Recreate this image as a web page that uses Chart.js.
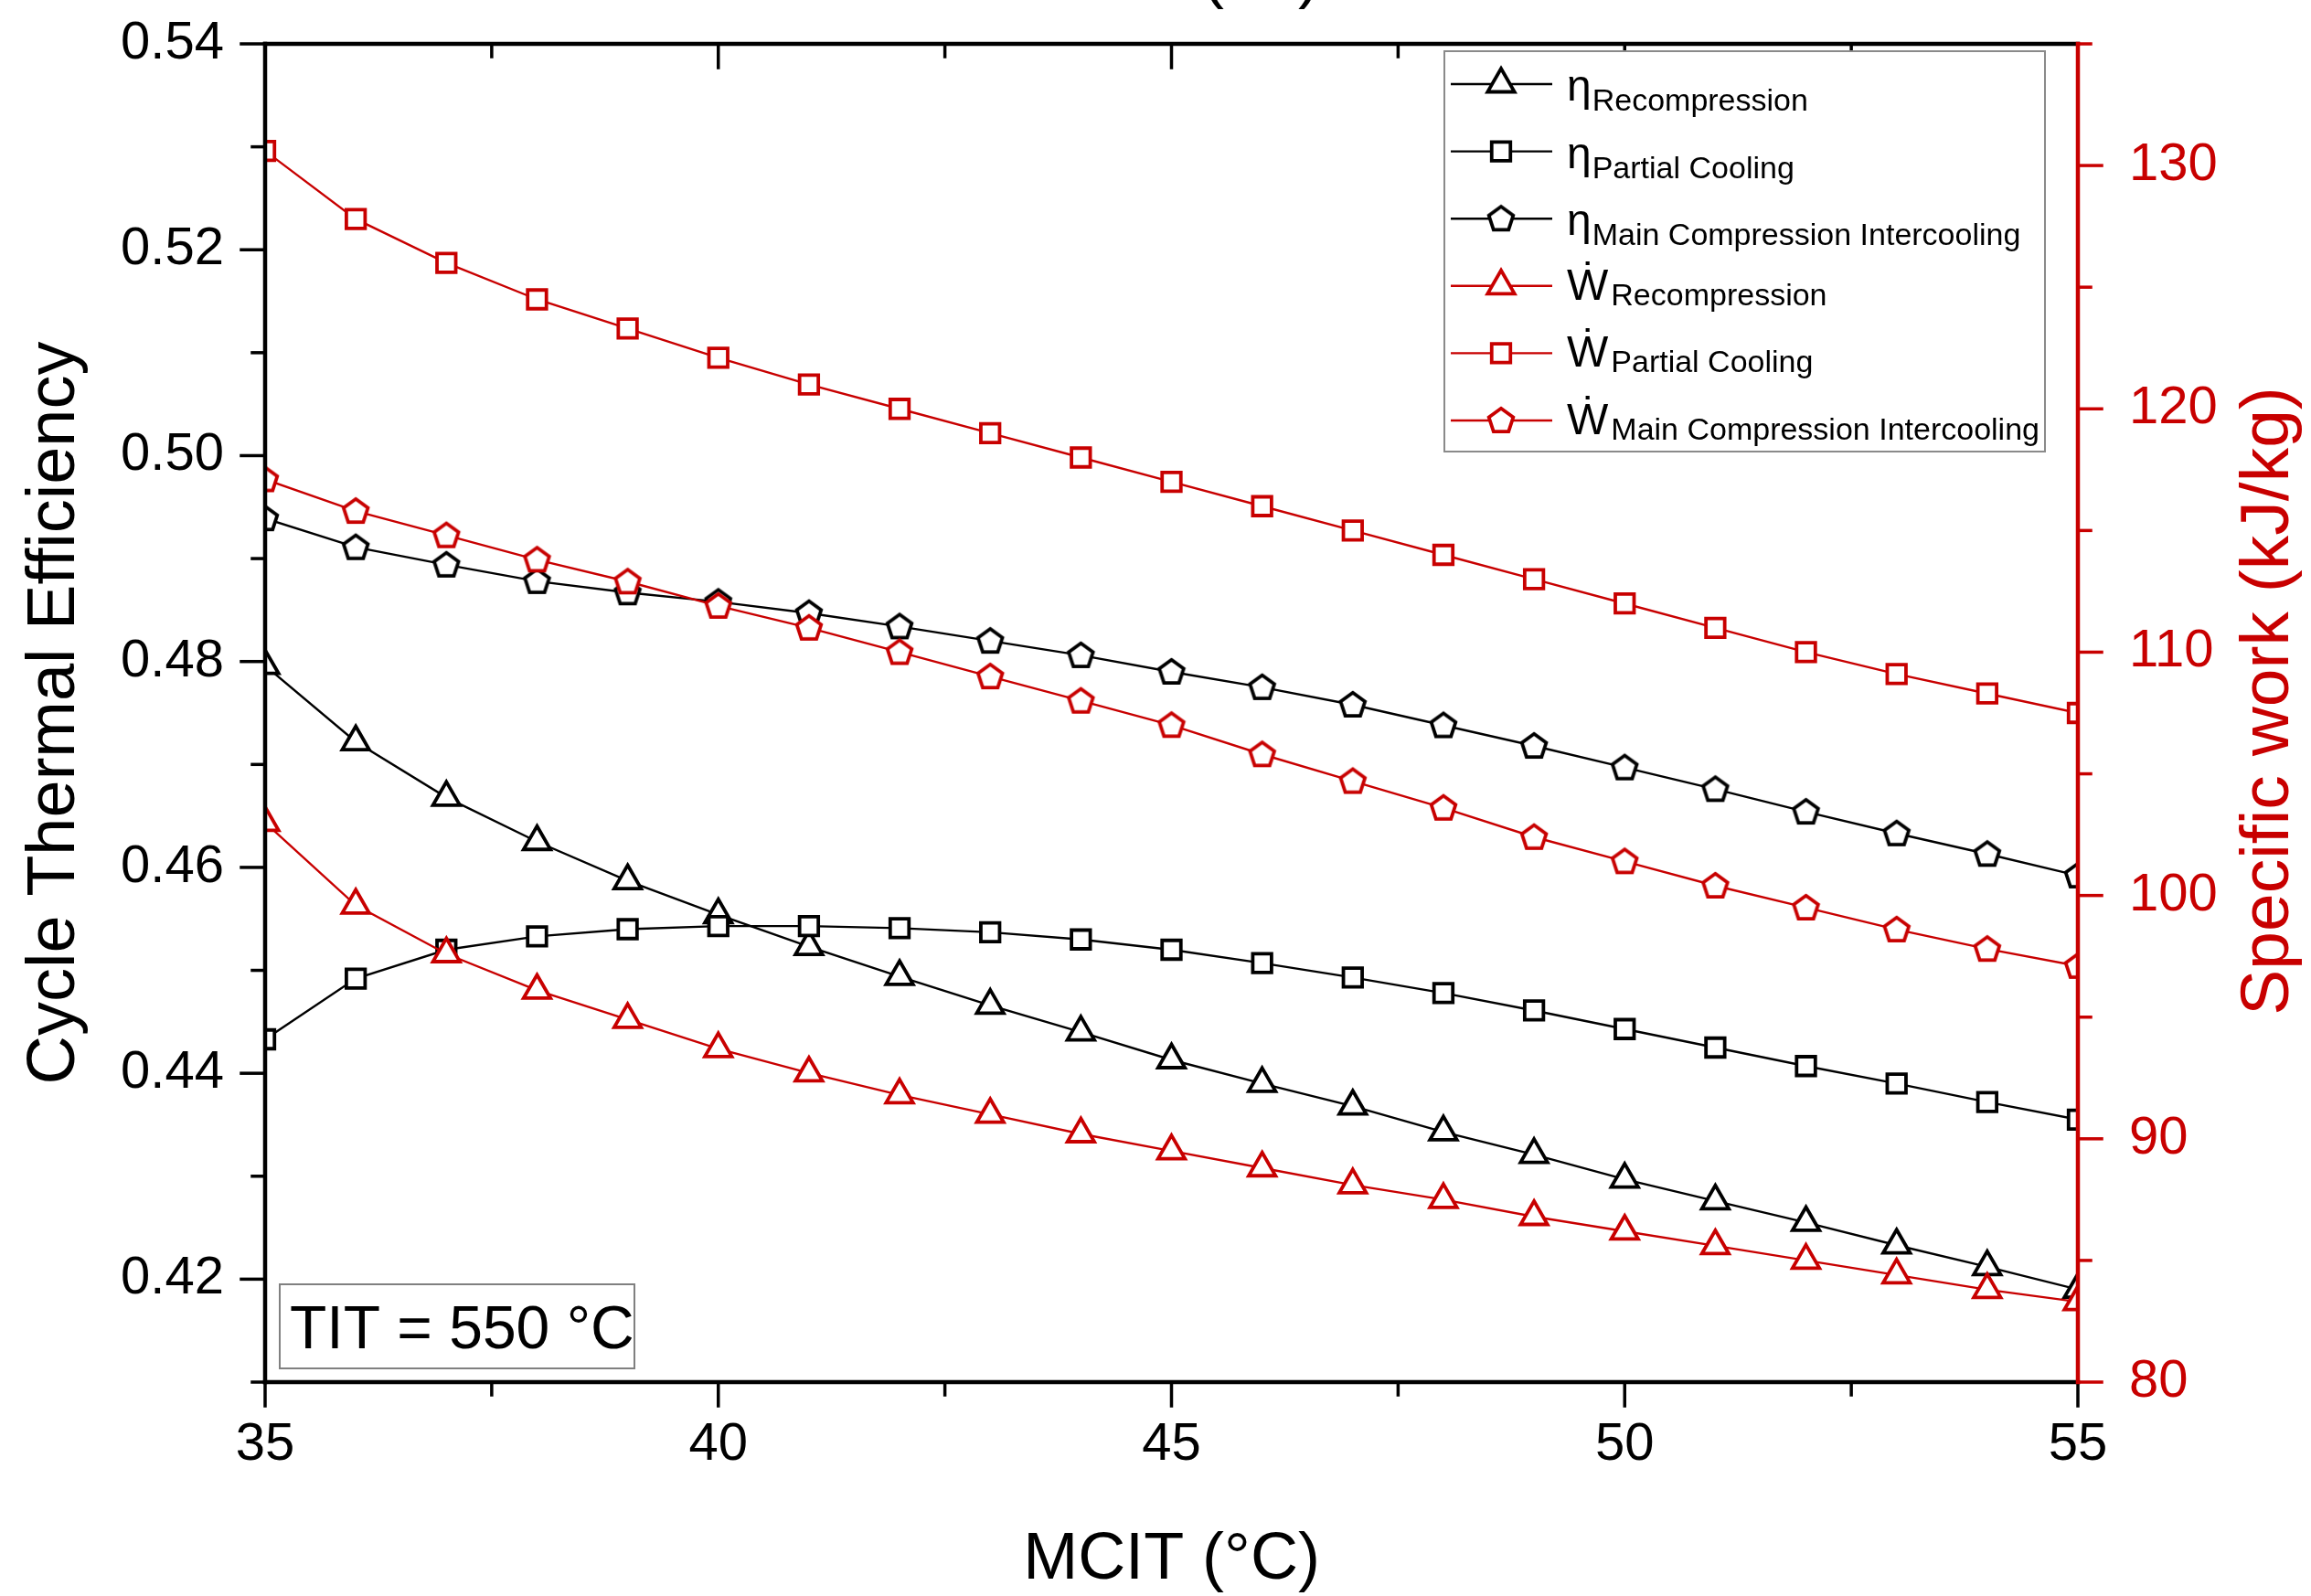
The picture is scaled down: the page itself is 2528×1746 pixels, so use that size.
<!DOCTYPE html>
<html>
<head>
<meta charset="utf-8">
<script src="https://cdn.jsdelivr.net/npm/chart.js@4.4.1/dist/chart.umd.min.js"></script>
<style>
  html, body { margin: 0; padding: 0; background: #fff; }
  #wrap { width: 2528px; height: 1746px; position: relative; }
</style>
</head>
<body>
<div id="wrap"><canvas id="chart" width="2528" height="1746"></canvas></div>
<script>
// MCIT sweep, 35..55 °C
const mcit = [35, 36, 37, 38, 39, 40, 41, 42, 43, 44, 45, 46, 47, 48, 49, 50, 51, 52, 53, 54, 55];

// thermal efficiency (left axis)
const etaRecompression = [0.4796, 0.4722, 0.4668, 0.4625, 0.4587, 0.4554, 0.4523, 0.4494, 0.4466, 0.4440, 0.4413,
  0.4390, 0.4368, 0.4343, 0.4321, 0.4297, 0.4276, 0.4255, 0.4233, 0.4212, 0.4190];
const etaPartialCooling = [0.4433, 0.4492, 0.4520, 0.4533, 0.4540, 0.4543, 0.4543, 0.4541, 0.4537, 0.4530, 0.4520,
  0.4507, 0.4493, 0.4478, 0.4461, 0.4443, 0.4425, 0.4407, 0.4390, 0.4372, 0.4355];
const etaMainCompIntercooling = [0.4939, 0.4911, 0.4894, 0.4878, 0.4867, 0.4858, 0.4847, 0.4834, 0.4820, 0.4806, 0.4790,
  0.4775, 0.4758, 0.4738, 0.4718, 0.4697, 0.4676, 0.4654, 0.4633, 0.4613, 0.4592];

// specific work, kJ/kg (right axis)
const workRecompression = [103.0, 99.6, 97.6, 96.1, 94.9, 93.7, 92.7, 91.8, 91.0, 90.2, 89.5,
  88.8, 88.1, 87.5, 86.8, 86.2, 85.6, 85.0, 84.4, 83.8, 83.3];
const workPartialCooling = [130.6, 127.8, 126.0, 124.5, 123.3, 122.1, 121.0, 120.0, 119.0, 118.0, 117.0,
  116.0, 115.0, 114.0, 113.0, 112.0, 111.0, 110.0, 109.1, 108.3, 107.5];
const workMainCompIntercooling = [117.1, 115.8, 114.8, 113.8, 112.9, 111.9, 111.0, 110.0, 109.0, 108.0, 107.0,
  105.8, 104.7, 103.6, 102.4, 101.4, 100.4, 99.5, 98.6, 97.8, 97.1];

// tick labels
const mcitTicks = [35, 40, 45, 50, 55];
const effTicks = [0.42, 0.44, 0.46, 0.48, 0.50, 0.52, 0.54];
const workTicks = [80, 90, 100, 110, 120, 130];

const BLACK = '#000000';
const RED = '#c80000';
const FONT = '"Liberation Sans", Arial, "DejaVu Sans", sans-serif';

Chart.defaults.font.family = FONT;

// Chart.js has no pentagon marker, so build one as an image
function pentagon(color) {
  const c = document.createElement('canvas');
  c.width = c.height = 40;
  const g = c.getContext('2d');
  g.beginPath();
  for (let i = 0; i < 5; i++) {
    const a = -Math.PI / 2 + i * 2 * Math.PI / 5;
    const px = 20 + 14 * Math.cos(a), py = 20.8 + 14 * Math.sin(a);
    if (i === 0) g.moveTo(px, py); else g.lineTo(px, py);
  }
  g.closePath();
  g.fillStyle = '#fff';
  g.fill();
  g.lineWidth = 3.8;
  g.lineJoin = 'miter';
  g.strokeStyle = color;
  g.stroke();
  return c;
}

function series(symbol, subscript, values, color, marker, radius, axis, order) {
  return {
    label: symbol + ' ' + subscript,
    symbol: symbol,
    subscript: subscript,
    data: mcit.map((x, i) => ({ x: x, y: values[i] })),
    yAxisID: axis,
    borderColor: color,
    borderWidth: 2.4,
    pointStyle: marker,
    pointRadius: radius,
    pointHoverRadius: radius,
    pointBorderWidth: 3.8,
    pointBorderColor: color,
    pointBackgroundColor: '#ffffff',
    tension: 0,
    clip: 0,
    order: order
  };
}

const datasets = [
  series('η', 'Recompression', etaRecompression, BLACK, 'triangle', 17, 'y', 6),
  series('η', 'Partial Cooling', etaPartialCooling, BLACK, 'rect', 14.5, 'y', 5),
  series('η', 'Main Compression Intercooling', etaMainCompIntercooling, BLACK, pentagon(BLACK), 14, 'y', 4),
  series('Ẇ', 'Recompression', workRecompression, RED, 'triangle', 17, 'y1', 3),
  series('Ẇ', 'Partial Cooling', workPartialCooling, RED, 'rect', 14.5, 'y1', 2),
  series('Ẇ', 'Main Compression Intercooling', workMainCompIntercooling, RED, pentagon(RED), 14, 'y1', 1)
];

// axis lines + major/minor ticks on all four sides
const frame = {
  id: 'frame',
  afterDatasetsDraw(chart) {
    const { ctx, chartArea: a, scales } = chart;
    const major = 26, minor = 14;
    const line = (x1, y1, x2, y2, color, w) => {
      ctx.beginPath();
      ctx.moveTo(x1, y1);
      ctx.lineTo(x2, y2);
      ctx.strokeStyle = color;
      ctx.lineWidth = w;
      ctx.stroke();
    };
    ctx.save();
    ctx.lineCap = 'square';

    // bottom + top
    mcitTicks.forEach((v, i) => {
      const x = scales.x.getPixelForValue(v);
      line(x, a.bottom, x, a.bottom + major, BLACK, 3.5);
      line(x, a.top, x, a.top + major, BLACK, 3.5);
      if (i < mcitTicks.length - 1) {
        const xm = scales.x.getPixelForValue((v + mcitTicks[i + 1]) / 2);
        line(xm, a.bottom, xm, a.bottom + minor, BLACK, 3.5);
        line(xm, a.top, xm, a.top + minor, BLACK, 3.5);
      }
    });
    // left
    effTicks.forEach((v) => {
      const y = scales.y.getPixelForValue(v);
      line(a.left, y, a.left - major, y, BLACK, 3.5);
      const ym = scales.y.getPixelForValue(v - 0.01);
      line(a.left, ym, a.left - minor, ym, BLACK, 3.5);
    });
    line(a.left, a.top, a.right, a.top, BLACK, 4.5);
    line(a.left, a.bottom, a.right, a.bottom, BLACK, 4.5);
    line(a.left, a.top, a.left, a.bottom, BLACK, 4.5);

    // right, red
    workTicks.forEach((v) => {
      const y = scales.y1.getPixelForValue(v);
      line(a.right, y, a.right + major, y, RED, 3.5);
      const ym = scales.y1.getPixelForValue(v + 5);
      line(a.right, ym, a.right + minor, ym, RED, 3.5);
    });
    line(a.right, a.top, a.right, a.bottom, RED, 4.5);
    ctx.restore();
  }
};

// titles, legend with subscripts, TIT note
const annotations = {
  id: 'annotations',
  afterDraw(chart) {
    const { ctx, chartArea: a } = chart;
    ctx.save();

    // axis title of the panel above, cut by the top edge
    ctx.fillStyle = BLACK;
    ctx.font = '72px ' + FONT;
    ctx.textAlign = 'center';
    ctx.textBaseline = 'alphabetic';
    ctx.fillText('MCIT (°C)', (a.left + a.right) / 2, -5);

    // x title
    ctx.fillText('MCIT (°C)', (a.left + a.right) / 2, 1727);

    // left title
    ctx.save();
    ctx.font = '74px ' + FONT;
    ctx.translate(81, (a.top + a.bottom) / 2);
    ctx.rotate(-Math.PI / 2);
    ctx.fillText('Cycle Thermal Efficiency', 0, 0);
    ctx.restore();

    // right title
    ctx.save();
    ctx.font = '75px ' + FONT;
    ctx.fillStyle = RED;
    ctx.translate(2503, 767);
    ctx.rotate(-Math.PI / 2);
    ctx.fillText('Specific work (kJ/kg)', 0, 0);
    ctx.restore();

    // legend
    const box = { left: 1580, top: 56, right: 2237, bottom: 494 };
    ctx.fillStyle = '#fff';
    ctx.fillRect(box.left, box.top, box.right - box.left, box.bottom - box.top);
    ctx.strokeStyle = '#8a8a8a';
    ctx.lineWidth = 2;
    ctx.strokeRect(box.left, box.top, box.right - box.left, box.bottom - box.top);

    ctx.textAlign = 'left';
    chart.data.datasets.forEach((ds, i) => {
      const cy = 92 + i * 73.6;
      ctx.beginPath();
      ctx.moveTo(1587, cy);
      ctx.lineTo(1698, cy);
      ctx.strokeStyle = ds.borderColor;
      ctx.lineWidth = ds.borderWidth;
      ctx.stroke();

      ctx.fillStyle = '#fff';
      ctx.strokeStyle = ds.pointBorderColor;
      ctx.lineWidth = ds.pointBorderWidth;
      Chart.helpers.drawPoint(ctx, {
        pointStyle: ds.pointStyle, radius: ds.pointRadius, rotation: 0, borderWidth: ds.pointBorderWidth
      }, 1642, cy);

      const isEta = ds.symbol === 'η';
      ctx.fillStyle = BLACK;
      ctx.font = '48px ' + FONT;
      ctx.fillText(ds.symbol, 1714, cy + (isEta ? 18 : 15));
      const w = ctx.measureText(ds.symbol).width;
      ctx.font = '34px ' + FONT;
      ctx.fillText(ds.subscript, 1714 + w + (isEta ? 1 : 3), cy + (isEta ? 29 : 21));
    });

    // TIT note
    ctx.fillStyle = '#fff';
    ctx.fillRect(306, 1405, 388, 92);
    ctx.strokeStyle = '#808080';
    ctx.lineWidth = 2;
    ctx.strokeRect(306, 1405, 388, 92);
    ctx.fillStyle = BLACK;
    ctx.font = '66px ' + FONT;
    ctx.fillText('TIT = 550 °C', 317, 1475);

    ctx.restore();
  }
};

const fixedTicks = (values) => (scale) => {
  scale.ticks = values.map((v) => ({ value: v }));
};

// keep the plot box fixed: no extra room for overhanging tick labels
const fixWidth = (w) => (s) => { s.width = w; s.paddingTop = 0; s.paddingBottom = 0; };
const fixHeight = (h) => (s) => { s.height = h; s.paddingLeft = 0; s.paddingRight = 0; };

new Chart(document.getElementById('chart').getContext('2d'), {
  type: 'line',
  data: { datasets: datasets },
  plugins: [frame, annotations],
  options: {
    responsive: false,
    devicePixelRatio: 1,
    animation: false,
    layout: { padding: { top: 48, left: 0, right: 0, bottom: 0 } },
    plugins: {
      legend: { display: false },
      tooltip: { enabled: false }
    },
    scales: {
      x: {
        type: 'linear',
        position: 'bottom',
        min: 35,
        max: 55,
        afterBuildTicks: fixedTicks(mcitTicks),
        afterFit: fixHeight(234),
        grid: { display: false, drawTicks: false },
        border: { display: false },
        ticks: { color: BLACK, font: { size: 58 }, padding: 34, maxRotation: 0 }
      },
      y: {
        type: 'linear',
        position: 'left',
        min: 0.41,
        max: 0.54,
        afterBuildTicks: fixedTicks(effTicks),
        afterFit: fixWidth(290),
        grid: { display: false, drawTicks: false },
        border: { display: false },
        ticks: { color: BLACK, font: { size: 58 }, padding: 45, callback: (v) => v.toFixed(2) }
      },
      y1: {
        type: 'linear',
        position: 'right',
        min: 80,
        max: 135,
        afterBuildTicks: fixedTicks(workTicks),
        afterFit: fixWidth(255),
        grid: { display: false, drawTicks: false },
        border: { display: false },
        ticks: { color: RED, font: { size: 58 }, padding: 56 }
      }
    }
  }
});
</script>
</body>
</html>
